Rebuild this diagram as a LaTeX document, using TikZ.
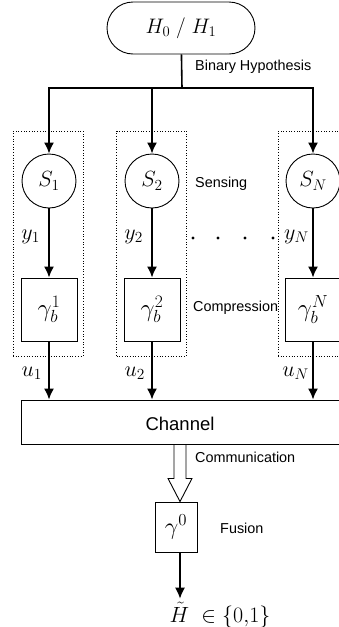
\RequirePackage{fix-cm}
\documentclass[tikz,border=0pt]{standalone}
\usepackage{fontspec}
\setsansfont{Liberation Sans}
\usetikzlibrary{positioning,arrows,arrows.meta,calc}
\tikzset{
    blk/.style={draw, line width=0.9pt, minimum width=56pt, minimum height=63pt, inner sep=0pt},
    sensor/.style={draw, circle, line width=0.9pt, minimum size=54pt, inner sep=0pt},
    group/.style={draw, dotted, line width=0.7pt, minimum width=70pt, minimum height=225pt},
    lbl/.style={font=\sffamily\fontsize{14.4}{17}\selectfont, anchor=west, inner sep=0pt},
    sym/.style={font=\fontsize{22}{26}\selectfont},
    gam/.style={font=\fontsize{25}{30}\selectfont},
    flow/.style={->, line width=1.6pt}
}
\begin{document}
\begin{tikzpicture}[>={Latex[length=11pt,width=10pt]}, x=1pt, y=-1pt]
		\clip (0,0) rectangle (339,627);

		\node[draw, line width=0.9pt, rounded corners=26pt, minimum width=148pt, minimum height=52pt, font=\fontsize{21}{25}\selectfont] (hyp) at (181,28) {$H_0\;/\;H_1$};
		\coordinate (split) at (182,88);

		\node[group] (grp1) at (48,243.5) {};
		\node[group] (grp2) at (151.5,243.5) {};
		\node[group] (grpN) at (313,243.5) {};

		\node[sensor, sym] (S1) at (49,181) {$S_1$};
		\node[sensor, sym] (S2) at (152,181) {$S_2$};
		\node[sensor, sym] (SN) at (313,181) {$S_N$};

		\node[blk, gam] (G1) at (49,309.5) {$\gamma_b^1$};
		\node[blk, gam] (G2) at (152,309.5) {$\gamma_b^2$};
		\node[blk, gam] (GN) at (313,309.5) {$\gamma_b^N$};

		\node[draw, line width=0.9pt, minimum width=340pt, minimum height=44pt] (chan) at (191,422) {};
		\node[font=\sffamily\fontsize{18.5}{22}\selectfont] (chantxt) at (180,424) {Channel};

		\node[draw, line width=0.9pt, minimum width=42pt, minimum height=50pt, font=\fontsize{24}{28}\selectfont] (fus) at (176,527) {$\gamma^0$};
		\node[sym] (out) at (220,615) {$\tilde{H}\;\in\{0{,}1\}$};

		\draw [line width=1.6pt] (hyp) -- (split);
		\draw [flow] (split) -| (S1);
		\draw [flow] (split) -| (S2);
		\draw [flow] (split) -| (SN);

		\draw [flow] (S1) -- node[left=5pt, pos=0.41, sym]{$y_1$} (G1);
		\draw [flow] (S2) -- node[left=5pt, pos=0.41, sym]{$y_2$} (G2);
		\draw [flow] (SN) -- node[left=0pt, pos=0.41, sym]{$y_N$} (GN);

		\draw [flow] (G1) -- node[left=3pt, pos=0.55, sym]{$u_1$} (G1 |- chan.north);
		\draw [flow] (G2) -- node[left=3pt, pos=0.55, sym]{$u_2$} (G2 |- chan.north);
		\draw [flow] (GN) -- node[left=0pt, pos=0.55, sym]{$u_N$} (GN |- chan.north);

		% hollow arrow from the channel to the fusion centre
		\coordinate (ctop) at (chan.south -| 180,0);
		\coordinate (ctip) at (fus.north -| 180,0);
		\draw [line width=0.9pt, line join=miter] ($(ctop)+(-6,0)$) -- ++(0,34) -- ++(-6,0) -- (ctip)
			-- ($(ctop)+(12,34)$) -- ++(-6,0) -- ($(ctop)+(6,0)$);
		\draw [flow] (fus.south -| 180,0) -- (out.north -| 180,0);

		\foreach \x in {193,218,245,273}
			\fill (\x,238) circle (1.6pt);

		\node[lbl] (bhyp) at (195,67) {Binary Hypothesis};
		\node[lbl] (sens) at (195,184) {Sensing};
		\node[lbl] (comp) at (193,308) {Compression};
		\node[lbl] (comm) at (195,457) {Communication};
		\node[lbl] (fusl) at (220,528) {Fusion};
	\end{tikzpicture}
\end{document}
